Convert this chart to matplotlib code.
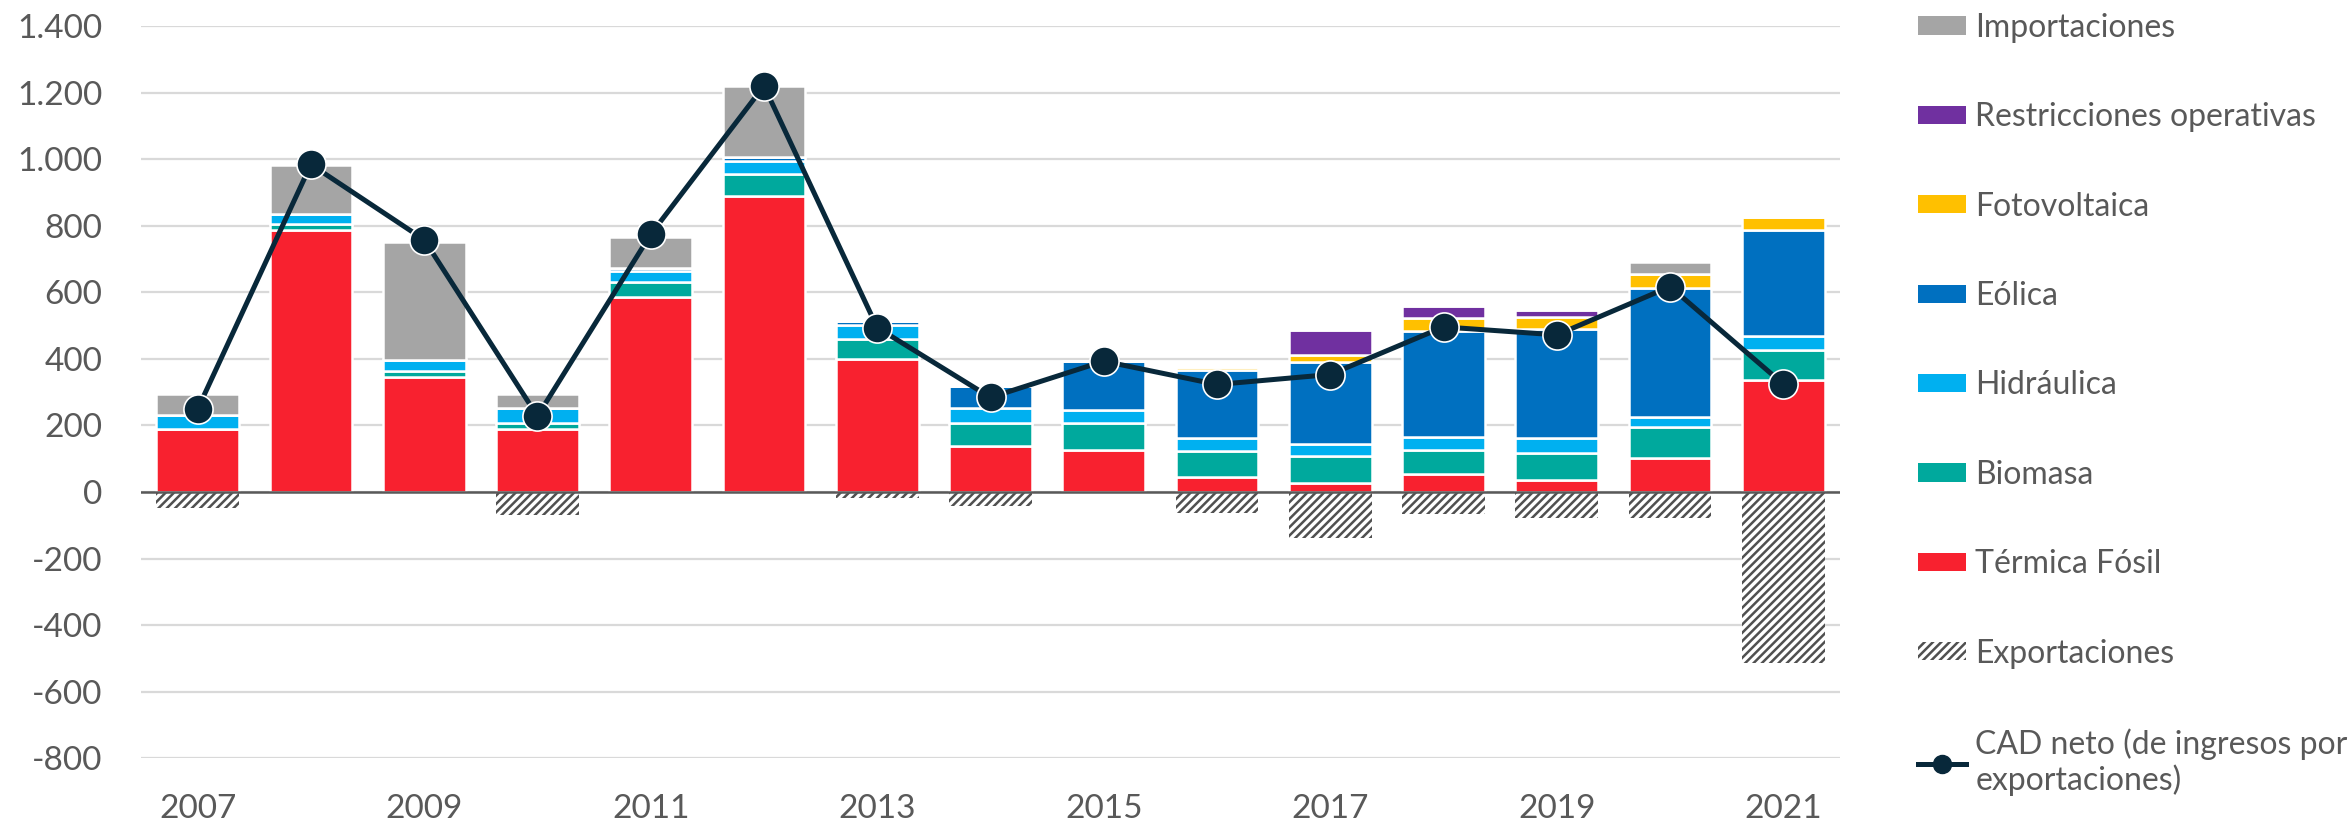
import numpy as np
import matplotlib
matplotlib.use("Agg")
import matplotlib.pyplot as plt
from matplotlib.patches import Patch
from matplotlib.lines import Line2D
from matplotlib.ticker import FuncFormatter

plt.rcParams['font.family'] = ['Lato', 'DejaVu Sans']
plt.rcParams['hatch.linewidth'] = 1.8

years = list(range(2007, 2022))
termica = [190, 787, 345, 189, 585, 890, 399, 137, 125, 45, 28, 53, 35, 101, 337]
biomasa = [0, 19, 18, 18, 47, 65, 62, 69, 82, 77, 79, 73, 81, 94, 91]
hidraulica = [41, 28, 33, 44, 32, 39, 40, 45, 40, 41, 37, 40, 47, 30, 42]
eolica = [0, 0, 0, 0, 10, 13, 13, 68, 147, 203, 247, 319, 327, 389, 317]
fotovoltaica = [0, 0, 0, 0, 0, 0, 0, 0, 0, 11, 22, 37, 37, 41, 38]
restricciones = [0, 0, 0, 0, 0, 0, 0, 0, 0, 0, 73, 36, 21, 0, 0]
importaciones = [63, 147, 355, 43, 92, 213, 0, 0, 0, 0, 0, 0, 0, 35, 0]
exportaciones = [-47, 0, 0, -68, 0, 0, -17, -41, 0, -62, -138, -65, -77, -77, -515]
cad_neto = [249, 984, 758, 228, 774, 1220, 494, 284, 393, 323, 353, 496, 472, 617, 324]

series = [
    ("Térmica Fósil", termica, "#F8212F"),
    ("Biomasa", biomasa, "#00A99D"),
    ("Hidráulica", hidraulica, "#00B0F0"),
    ("Eólica", eolica, "#0070C0"),
    ("Fotovoltaica", fotovoltaica, "#FFC000"),
    ("Restricciones operativas", restricciones, "#7030A0"),
    ("Importaciones", importaciones, "#A5A5A5"),
]
txt = "#595959"

fig = plt.figure(figsize=(23.51, 8.26), dpi=100)
ax = fig.add_axes([141 / 2351, 1 - 758.3 / 826, (1840 - 141) / 2351, (758.3 - 26) / 826])

x = np.arange(len(years))
w = 0.73
bottom = np.zeros(len(years))
for name, vals, col in series:
    v = np.array(vals, dtype=float)
    ax.bar(x, v, w, bottom=bottom, color=col, edgecolor="white", linewidth=1.8, zorder=2)
    bottom += v

# exportaciones: rayado gris oscuro
ax.bar(x, exportaciones, w, color="white", edgecolor="#505050", hatch="////", linewidth=0, zorder=2)

ax.axhline(0, color="#595959", lw=1.8, zorder=3)
ax.plot(x, cad_neto, color="#08283A", lw=3.6, marker="o", ms=21,
        markerfacecolor="#08283A", markeredgecolor="white", markeredgewidth=1.2, zorder=4)

ax.set_xlim(-0.5, len(years) - 0.5)
ax.set_ylim(-800, 1400)
ax.set_yticks(np.arange(-800, 1401, 200))
ax.yaxis.set_major_formatter(FuncFormatter(lambda v, p: f"{int(v):,}".replace(",", ".")))
ax.set_xticks(x[::2])
ax.set_xticklabels([str(y) for y in years[::2]])
ax.tick_params(axis="both", length=0, labelsize=24, colors=txt)
ax.tick_params(axis="y", pad=28)
ax.tick_params(axis="x", pad=26)
ax.grid(axis="y", color="#D9D9D9", lw=1.6, zorder=0)
ax.set_axisbelow(True)
for s in ax.spines.values():
    s.set_visible(False)

handles = [
    Patch(facecolor="#A5A5A5", label="Importaciones"),
    Patch(facecolor="#7030A0", label="Restricciones operativas"),
    Patch(facecolor="#FFC000", label="Fotovoltaica"),
    Patch(facecolor="#0070C0", label="Eólica"),
    Patch(facecolor="#00B0F0", label="Hidráulica"),
    Patch(facecolor="#00A99D", label="Biomasa"),
    Patch(facecolor="#F8212F", label="Térmica Fósil"),
    Patch(facecolor="white", edgecolor="#505050", hatch="////", linewidth=0, label="Exportaciones"),
    Line2D([0], [0], color="#08283A", lw=3.6, marker="o", ms=13, label="CAD neto (de ingresos por\nexportaciones)"),
]
leg = fig.legend(handles=handles, loc="upper left", bbox_to_anchor=(1905 / 2351, 1.0),
                 frameon=False, fontsize=23, labelcolor=txt, handlelength=1.5,
                 handleheight=0.5, handletextpad=0.3, labelspacing=1.86, borderaxespad=0)

fig.savefig("out.png", dpi=100)
